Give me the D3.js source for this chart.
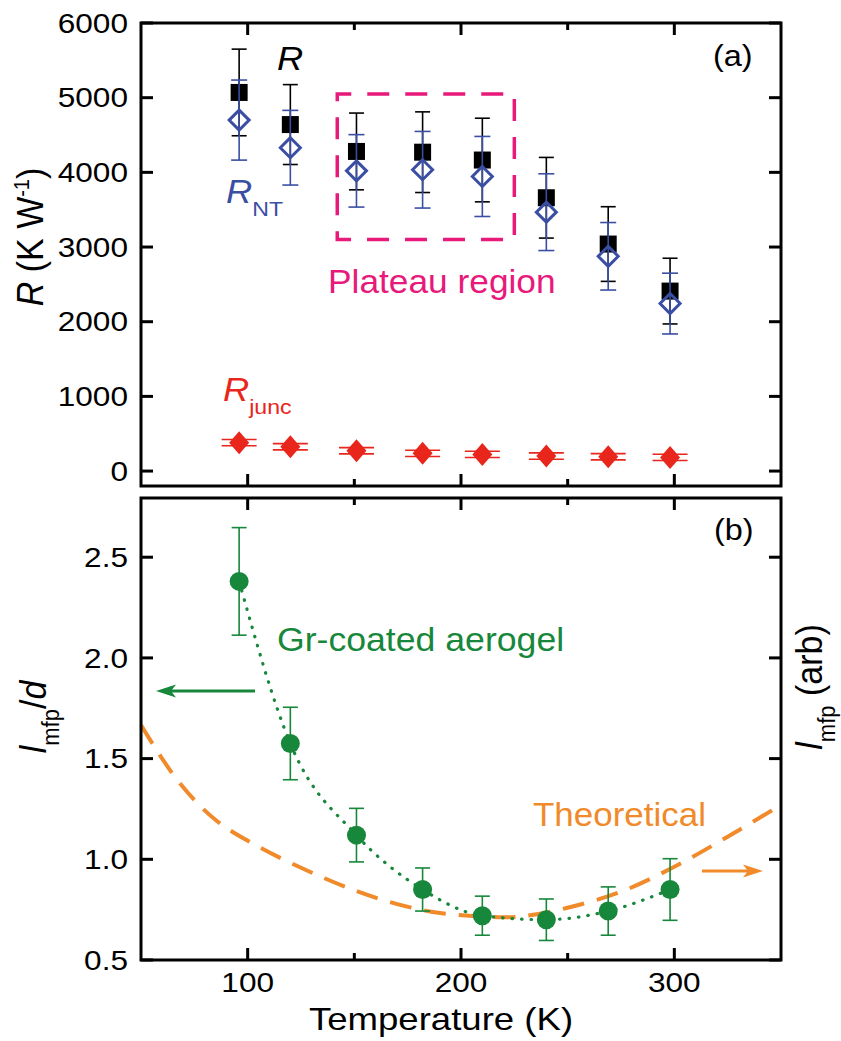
<!DOCTYPE html>
<html><head><meta charset="utf-8">
<script src="https://cdn.jsdelivr.net/npm/d3@7"></script>
<style>body{margin:0;background:#fff}svg{display:block}text{font-family:"Liberation Sans",Arial,sans-serif}</style>
</head><body><svg id="c" width="841" height="1041"></svg>
<script>
// ---------- data ----------
const temps = [96, 120, 151, 182, 210, 240, 269, 298];
const rTotal = [5070, 4640, 4280, 4270, 4165, 3660, 3040, 2410];
const rTotalErr = [580, 535, 514, 540, 560, 540, 500, 440];
const rNT = [4700, 4330, 4020, 4035, 3945, 3467, 2876, 2243];
const rNTErr = [536, 500, 485, 513, 536, 514, 452, 407];
const rJunc = [380, 326, 272, 237, 223, 201, 192, 183];
const rJuncErr = [42, 42, 42, 42, 42, 42, 42, 42];
const lmfp = [2.38, 1.575, 1.12, 0.85, 0.72, 0.70, 0.743, 0.85];
const lmfpErr = [0.267, 0.18, 0.133, 0.107, 0.097, 0.103, 0.12, 0.153];
const theoryT = [50, 67, 85, 105, 136, 161, 186, 211, 227, 249, 275, 300, 325, 350];
const theoryV = [1.667, 1.394, 1.195, 1.063, 0.906, 0.806, 0.740, 0.715, 0.715, 0.757, 0.839, 0.963, 1.112, 1.27];
const xTicksMajor = [100, 200, 300];
const xTicksMinor = [150, 250];
const yTicksA = [0, 1000, 2000, 3000, 4000, 5000, 6000];
const yTicksB = [0.5, 1.0, 1.5, 2.0, 2.5];
const plateauBox = {t0: 142, t1: 225, r0: 3100, r1: 5050};

// ---------- layout ----------
const svg = d3.select("#c");
const L = 141, R = 781;
const aTop = 23, aBot = 486, bTop = 498, bBot = 960;
const x = d3.scaleLinear().domain([50, 350]).range([L, R]);
const yA = d3.scaleLinear().domain([-200, 6000]).range([aBot, aTop]);
const yB = d3.scaleLinear().domain([0.5, 2.794]).range([bBot, bTop]);

const C = {blk:"#000", blue:"#3a4ea3", red:"#e8261c", green:"#17873b", orange:"#f08a2a", pink:"#e8197a"};
const SX = 1.1;

function stext(g, px, py, opts, build) {
  const gg = g.append("g").attr("transform", `translate(${px},${py}) scale(${opts.sx || SX},1)` + (opts.rot ? ` rotate(${opts.rot})` : ""));
  const t = gg.append("text").attr("text-anchor", opts.anchor || "start")
    .attr("font-size", opts.size).attr("fill", opts.fill || "#000");
  if (opts.dy) t.attr("dy", opts.dy);
  build(t);
  return t;
}

function frame(yScale, top, bot, yTicks, labelFmt) {
  const g = svg.append("g");
  const maj = 12, mn = 7;
  xTicksMajor.forEach(v => {
    g.append("line").attr("x1", x(v)).attr("x2", x(v)).attr("y1", top).attr("y2", top + maj).attr("stroke", "#000").attr("stroke-width", 3);
    g.append("line").attr("x1", x(v)).attr("x2", x(v)).attr("y1", bot).attr("y2", bot - maj).attr("stroke", "#000").attr("stroke-width", 3);
  });
  xTicksMinor.forEach(v => {
    g.append("line").attr("x1", x(v)).attr("x2", x(v)).attr("y1", top).attr("y2", top + mn).attr("stroke", "#000").attr("stroke-width", 3);
    g.append("line").attr("x1", x(v)).attr("x2", x(v)).attr("y1", bot).attr("y2", bot - mn).attr("stroke", "#000").attr("stroke-width", 3);
  });
  yTicks.forEach(v => {
    const yy = yScale(v);
    g.append("line").attr("x1", L).attr("x2", L + maj).attr("y1", yy).attr("y2", yy).attr("stroke", "#000").attr("stroke-width", 3);
    g.append("line").attr("x1", R).attr("x2", R - maj).attr("y1", yy).attr("y2", yy).attr("stroke", "#000").attr("stroke-width", 3);
    stext(g, 128, yy, {size: 27, anchor: "end", dy: "0.36em", sx: 1.17}, t => t.text(labelFmt(v)));
  });
  g.append("rect").attr("x", L).attr("y", top).attr("width", R - L).attr("height", bot - top)
    .attr("fill", "none").attr("stroke", "#000").attr("stroke-width", 3);
}

// ---------- panel (a) ----------
const pa = svg.append("g");
pa.append("rect").attr("x", x(plateauBox.t0)).attr("y", yA(plateauBox.r1))
  .attr("width", x(plateauBox.t1) - x(plateauBox.t0)).attr("height", yA(plateauBox.r0) - yA(plateauBox.r1))
  .attr("fill", "none").attr("stroke", C.pink).attr("stroke-width", 3.5).attr("stroke-dasharray", "22,16").attr("stroke-dashoffset", 8);

function errbars(g, ys, vals, errs, color, cap, sw) {
  temps.forEach((t, i) => {
    const cx = x(t), y1 = ys(vals[i] + errs[i]), y2 = ys(vals[i] - errs[i]);
    g.append("line").attr("x1", cx).attr("x2", cx).attr("y1", y1).attr("y2", y2).attr("stroke", color).attr("stroke-width", sw);
    [y1, y2].forEach(yy => g.append("line").attr("x1", cx - cap / 2).attr("x2", cx + cap / 2).attr("y1", yy).attr("y2", yy).attr("stroke", color).attr("stroke-width", sw));
  });
}
errbars(pa, yA, rTotal, rTotalErr, C.blk, 15, 1.6);
pa.selectAll(".sq").data(temps).join("rect")
  .attr("x", (d) => x(d) - 8.5).attr("y", (d, i) => yA(rTotal[i]) - 8.5).attr("width", 17).attr("height", 17).attr("fill", "#000");
errbars(pa, yA, rNT, rNTErr, C.blue, 16, 1.6);
pa.selectAll(".dm").data(temps).join("path")
  .attr("d", (d, i) => { const cx = x(d), cy = yA(rNT[i]), s = 10; return `M${cx},${cy - s}L${cx + s},${cy}L${cx},${cy + s}L${cx - s},${cy}Z`; })
  .attr("fill", "none").attr("stroke", C.blue).attr("stroke-width", 3);
errbars(pa, yA, rJunc, rJuncErr, C.red, 35, 1.6);
pa.selectAll(".rd").data(temps).join("path")
  .attr("d", (d, i) => { const cx = x(d), cy = yA(rJunc[i]), w = 10, h = 11.5; return `M${cx},${cy - h}L${cx + w},${cy}L${cx},${cy + h}L${cx - w},${cy}Z`; })
  .attr("fill", C.red);

frame(yA, aTop, aBot, yTicksA, d => String(d));

// annotations (a)
stext(pa, 277, 70, {size: 33, fill: "#000"}, t => t.append("tspan").attr("font-style", "italic").text("R"));
stext(pa, 226, 203, {size: 33, fill: C.blue}, t => {
  t.append("tspan").attr("font-style", "italic").text("R");
  t.append("tspan").attr("font-size", 21).attr("dy", 13).text("NT");
});
stext(pa, 223, 401, {size: 33, fill: C.red}, t => {
  t.append("tspan").attr("font-style", "italic").text("R");
  t.append("tspan").attr("font-size", 21).attr("dy", 13).text("junc");
});
stext(pa, 328, 293, {size: 33, fill: C.pink, sx: 1.07}, t => t.text("Plateau region"));
stext(pa, 713, 66, {size: 30, sx: 1.08}, t => t.text("(a)"));

// ---------- panel (b) ----------
const pb = svg.append("g");
const lineT = d3.line().x(d => x(d[0])).y(d => yB(d[1])).curve(d3.curveCatmullRom);
pb.append("path").datum(theoryT.map((t, i) => [t, theoryV[i]])).attr("d", lineT)
  .attr("fill", "none").attr("stroke", C.orange).attr("stroke-width", 4).attr("stroke-dasharray", "22,13");
pb.append("path").datum(temps.map((t, i) => [t, lmfp[i]])).attr("d", d3.line().x(d => x(d[0])).y(d => yB(d[1])).curve(d3.curveMonotoneX))
  .attr("fill", "none").attr("stroke", C.green).attr("stroke-width", 3.2).attr("stroke-linecap", "round").attr("stroke-dasharray", "0.5,9");
errbars(pb, yB, lmfp, lmfpErr, C.green, 15, 1.6);
pb.selectAll(".gc").data(temps).join("circle")
  .attr("cx", d => x(d)).attr("cy", (d, i) => yB(lmfp[i])).attr("r", 9.5).attr("fill", C.green);

frame(yB, bTop, bBot, yTicksB, d => d.toFixed(1));

function arrow(g, x1, x2, yy, color) {
  const dir = Math.sign(x2 - x1), hl = 20, hw = 6.5;
  g.append("line").attr("x1", x1).attr("x2", x2 - dir * hl * 0.6).attr("y1", yy).attr("y2", yy).attr("stroke", color).attr("stroke-width", 3);
  g.append("path").attr("d", `M${x2},${yy}L${x2 - dir * hl},${yy - hw}L${x2 - dir * hl * 0.75},${yy}L${x2 - dir * hl},${yy + hw}Z`).attr("fill", color);
}
arrow(pb, 255, 156, 691, C.green);
arrow(pb, 702, 763, 871, C.orange);

stext(pb, 277, 651, {size: 33, fill: C.green, sx: 1.08}, t => t.text("Gr-coated aerogel"));
stext(pb, 533, 826, {size: 33, fill: C.orange, sx: 1.06}, t => t.text("Theoretical"));
stext(pb, 714, 540, {size: 30, sx: 1.08}, t => t.text("(b)"));

xTicksMajor.forEach(v => stext(svg, x(v), 992, {size: 27, anchor: "middle", sx: 1.17}, t => t.text(String(v))));
stext(svg, 441, 1030, {size: 31, anchor: "middle", sx: 1.18}, t => t.text("Temperature (K)"));

stext(svg, 43, 237, {size: 34, anchor: "middle", rot: -90}, t => {
  t.append("tspan").attr("font-style", "italic").text("R");
  t.append("tspan").text(" (K W");
  t.append("tspan").attr("font-size", 20).attr("dy", -13).text("-1");
  t.append("tspan").attr("dy", 13).text(")");
});
stext(svg, 46, 717, {size: 34, anchor: "middle", rot: -90}, t => {
  t.append("tspan").attr("font-style", "italic").text("l");
  t.append("tspan").attr("font-size", 22).attr("dy", 12).text("mfp");
  t.append("tspan").attr("dy", -12).text("/");
  t.append("tspan").attr("font-style", "italic").text("d");
});
stext(svg, 822, 687, {size: 34, anchor: "middle", rot: -90}, t => {
  t.append("tspan").attr("font-style", "italic").text("l");
  t.append("tspan").attr("font-size", 22).attr("dy", 12).text("mfp");
  t.append("tspan").attr("dy", -12).text(" (arb)");
});
</script></body></html>
